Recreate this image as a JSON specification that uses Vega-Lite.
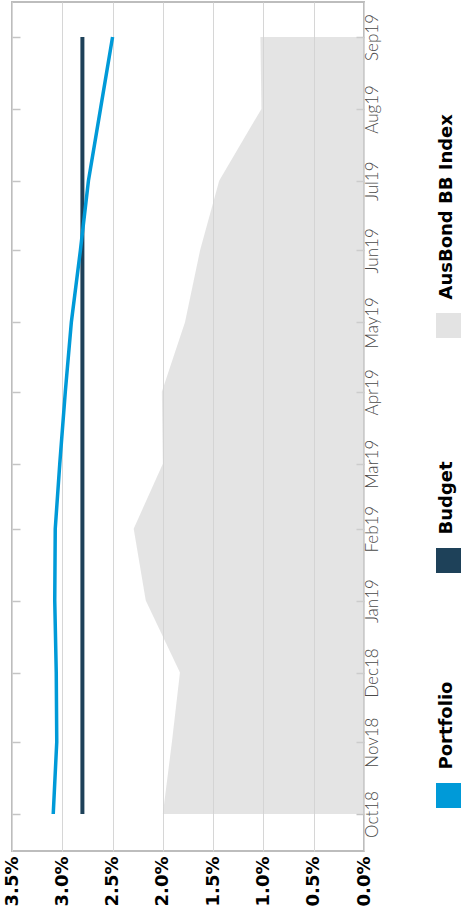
{
  "$schema": "https://vega.github.io/schema/vega-lite/v6.json",
  "padding": {"left": 2, "top": 1, "right": 0, "bottom": 0},
  "background": "white",
  "config": {"view": {"stroke": null}},
  "spacing": 55,
  "datasets": {
    "series": [
      {"date": "2018-10-01", "series": "Portfolio", "value": 3.09},
      {"date": "2018-11-01", "series": "Portfolio", "value": 3.055},
      {"date": "2018-12-01", "series": "Portfolio", "value": 3.06},
      {"date": "2019-01-01", "series": "Portfolio", "value": 3.075},
      {"date": "2019-02-01", "series": "Portfolio", "value": 3.07},
      {"date": "2019-03-01", "series": "Portfolio", "value": 3.025},
      {"date": "2019-04-01", "series": "Portfolio", "value": 2.97},
      {"date": "2019-05-01", "series": "Portfolio", "value": 2.91},
      {"date": "2019-06-01", "series": "Portfolio", "value": 2.82},
      {"date": "2019-07-01", "series": "Portfolio", "value": 2.74},
      {"date": "2019-08-01", "series": "Portfolio", "value": 2.62},
      {"date": "2019-09-01", "series": "Portfolio", "value": 2.5},
      {"date": "2018-10-01", "series": "Budget", "value": 2.8},
      {"date": "2018-11-01", "series": "Budget", "value": 2.8},
      {"date": "2018-12-01", "series": "Budget", "value": 2.8},
      {"date": "2019-01-01", "series": "Budget", "value": 2.8},
      {"date": "2019-02-01", "series": "Budget", "value": 2.8},
      {"date": "2019-03-01", "series": "Budget", "value": 2.8},
      {"date": "2019-04-01", "series": "Budget", "value": 2.8},
      {"date": "2019-05-01", "series": "Budget", "value": 2.8},
      {"date": "2019-06-01", "series": "Budget", "value": 2.8},
      {"date": "2019-07-01", "series": "Budget", "value": 2.8},
      {"date": "2019-08-01", "series": "Budget", "value": 2.8},
      {"date": "2019-09-01", "series": "Budget", "value": 2.8},
      {"date": "2018-10-01", "series": "AusBond BB Index", "value": 2.0},
      {"date": "2018-11-01", "series": "AusBond BB Index", "value": 1.91},
      {"date": "2018-12-01", "series": "AusBond BB Index", "value": 1.83},
      {"date": "2019-01-01", "series": "AusBond BB Index", "value": 2.17},
      {"date": "2019-02-01", "series": "AusBond BB Index", "value": 2.29},
      {"date": "2019-03-01", "series": "AusBond BB Index", "value": 2.0},
      {"date": "2019-04-01", "series": "AusBond BB Index", "value": 2.01},
      {"date": "2019-05-01", "series": "AusBond BB Index", "value": 1.78},
      {"date": "2019-06-01", "series": "AusBond BB Index", "value": 1.63},
      {"date": "2019-07-01", "series": "AusBond BB Index", "value": 1.44},
      {"date": "2019-08-01", "series": "AusBond BB Index", "value": 1.02},
      {"date": "2019-09-01", "series": "AusBond BB Index", "value": 1.03}
    ],
    "legend": [
      {"name": "AusBond BB Index"},
      {"name": "Budget"},
      {"name": "Portfolio"}
    ]
  },
  "hconcat": [
    {
      "width": 352,
      "height": 849,
      "data": {"name": "series"},
      "view": {"stroke": "#BDBDBD", "strokeWidth": 2},
      "resolve": {"axis": {"y": "independent"}},
      "encoding": {
        "y": {
          "field": "date",
          "type": "temporal",
          "axis": null,
          "scale": {
            "type": "utc",
            "domain": [
              {"year": 2018, "month": 9, "date": 15, "hours": 1, "utc": true},
              {"year": 2019, "month": 9, "date": 16, "hours": 2, "utc": true}
            ]
          }
        },
        "x": {
          "field": "value",
          "type": "quantitative",
          "scale": {"domain": [0, 3.5], "reverse": true, "nice": false, "zero": false}
        }
      },
      "layer": [
        {
          "transform": [{"filter": "datum.series === 'AusBond BB Index'"}],
          "mark": {"type": "area", "orient": "horizontal", "color": "#D2D2D2", "opacity": 0.6},
          "encoding": {
            "x": {
              "field": "value",
              "type": "quantitative",
              "axis": {
                "orient": "bottom",
                "values": [0, 0.5, 1, 1.5, 2, 2.5, 3, 3.5],
                "labelExpr": "format(datum.value, '.1f') + '%'",
                "labelAngle": -90,
                "labelAlign": "right",
                "labelBaseline": "middle",
                "labelPadding": 5,
                "labelFont": "DejaVu Sans",
                "labelFontWeight": "bold",
                "labelFontSize": 18,
                "labelColor": "#000000",
                "labelOverlap": false,
                "labelFlush": false,
                "ticks": false,
                "domain": false,
                "grid": true,
                "gridColor": "#D6D6D6",
                "gridWidth": 1,
                "title": null
              }
            },
            "y": {
              "field": "date",
              "type": "temporal",
              "axis": {
                "orient": "left",
                "labels": false,
                "tickCount": {"interval": "month", "step": 1},
                "tickSize": -8,
                "tickColor": "#C4C4C4",
                "tickWidth": 1.5,
                "domain": false,
                "grid": false,
                "title": null
              }
            }
          }
        },
        {
          "transform": [{"filter": "datum.series === 'Budget'"}],
          "mark": {"type": "line", "orient": "horizontal", "color": "#1E4159", "strokeWidth": 4},
          "encoding": {
            "y": {
              "field": "date",
              "type": "temporal",
              "axis": {
                "orient": "right",
                "tickCount": {"interval": "month", "step": 1},
                "labelExpr": "utcFormat(datum.value, '%b%y')",
                "tickSize": -8,
                "tickColor": "#C4C4C4",
                "tickWidth": 1.5,
                "labelAngle": -90,
                "labelAlign": "center",
                "labelBaseline": "top",
                "labelPadding": 8,
                "labelFont": "Lato",
                "labelFontWeight": 300,
                "labelFontSize": 17,
                "labelColor": "#4A4A4A",
                "labelOverlap": false,
                "labelFlush": false,
                "domain": false,
                "grid": false,
                "title": null
              }
            }
          }
        },
        {
          "transform": [{"filter": "datum.series === 'Portfolio'"}],
          "mark": {"type": "line", "orient": "horizontal", "color": "#009AD8", "strokeWidth": 3.5}
        }
      ]
    },
    {
      "width": 25,
      "height": 849,
      "data": {"name": "legend"},
      "encoding": {
        "y": {
          "field": "name",
          "type": "nominal",
          "sort": null,
          "scale": {"type": "point", "domain": ["AusBond BB Index", "Budget", "Portfolio"], "padding": 0.8064, "align": 0.8536},
          "axis": null
        }
      },
      "layer": [
        {
          "mark": {"type": "point", "shape": "square", "filled": true, "size": 625, "opacity": 1, "strokeWidth": 0},
          "encoding": {
            "color": {
              "field": "name",
              "type": "nominal",
              "scale": {"domain": ["AusBond BB Index", "Budget", "Portfolio"], "range": ["#E3E3E3", "#1E4159", "#009AD8"]},
              "legend": null
            }
          }
        },
        {
          "mark": {"type": "text", "angle": 270, "align": "left", "baseline": "middle", "dx": 26, "dy": -2, "font": "DejaVu Sans", "fontWeight": "bold", "fontSize": 18, "color": "#000000"},
          "encoding": {"text": {"field": "name"}}
        }
      ]
    }
  ]
}
